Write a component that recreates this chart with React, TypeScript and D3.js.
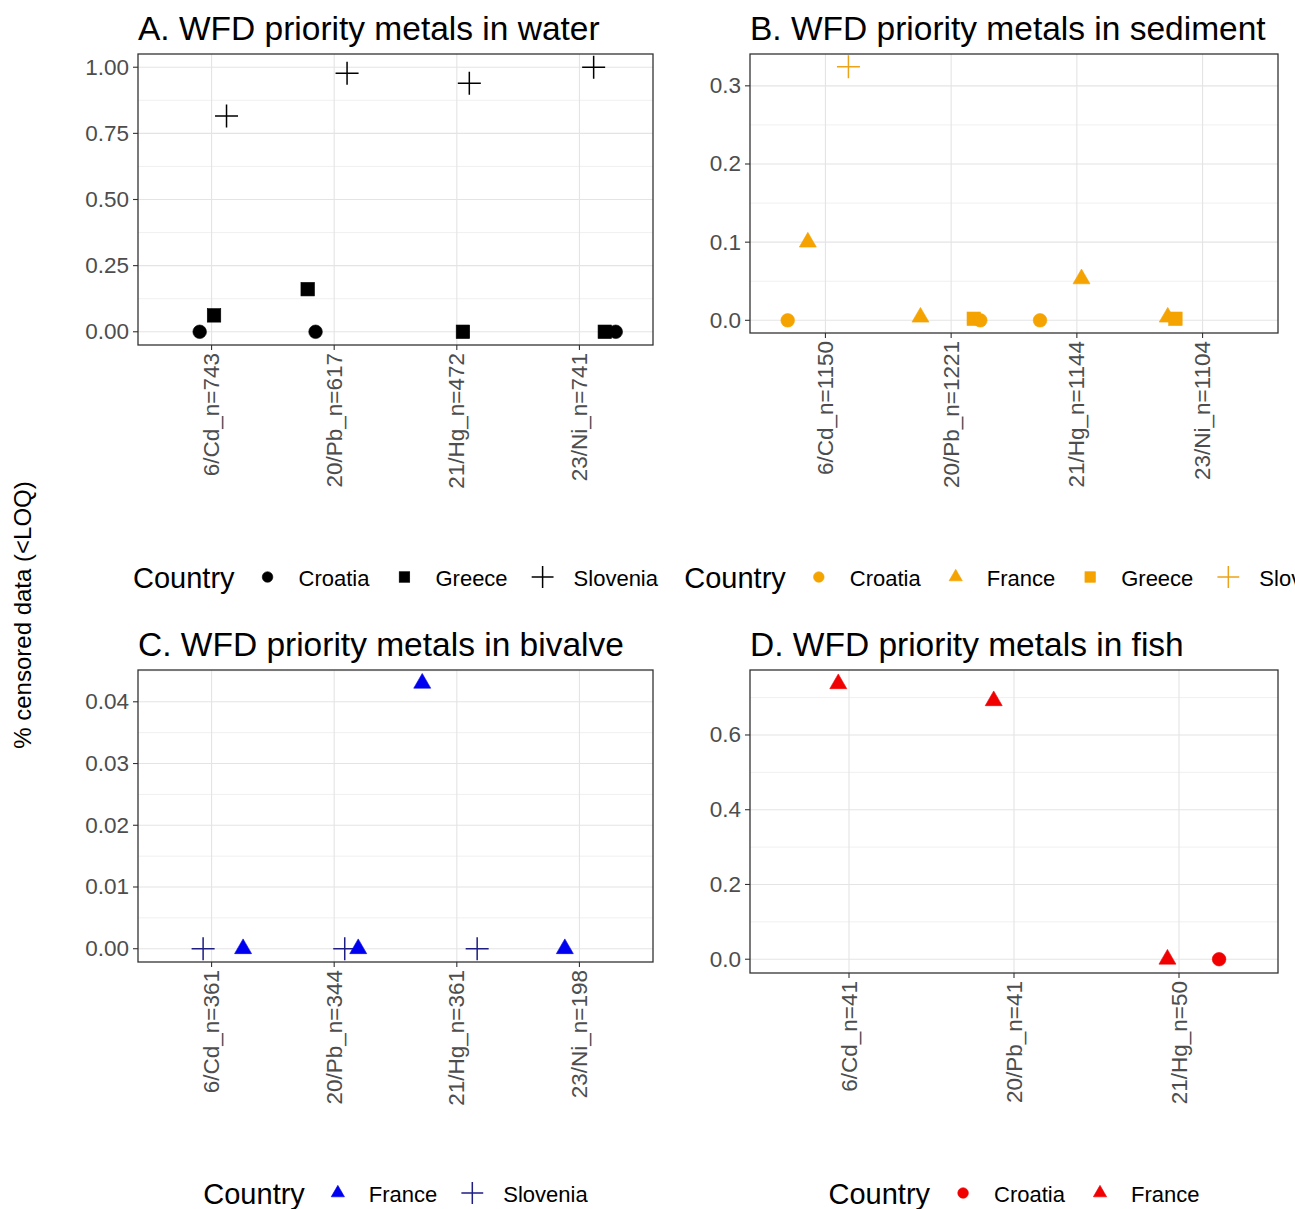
import React from "react";
import * as d3 from "d3";

const FONT = "'Liberation Sans', Arial, Helvetica, sans-serif";

// ---------- data ----------
const waterCategories = ["6/Cd_n=743", "20/Pb_n=617", "21/Hg_n=472", "23/Ni_n=741"];
const sedimentCategories = ["6/Cd_n=1150", "20/Pb_n=1221", "21/Hg_n=1144", "23/Ni_n=1104"];
const bivalveCategories = ["6/Cd_n=361", "20/Pb_n=344", "21/Hg_n=361", "23/Ni_n=198"];
const fishCategories = ["6/Cd_n=41", "20/Pb_n=41", "21/Hg_n=50"];

const waterTicks = [0, 0.25, 0.5, 0.75, 1.0];
const sedimentTicks = [0, 0.1, 0.2, 0.3];
const bivalveTicks = [0, 0.01, 0.02, 0.03, 0.04];
const fishTicks = [0, 0.2, 0.4, 0.6];

// [country, category index, share censored, jitter (in category steps)]
type Pt = [string, number, number, number];

const waterPoints: Pt[] = [
  ["Greece", 0, 0.062, 0.02],
  ["Greece", 1, 0.161, -0.216],
  ["Greece", 2, 0.0, 0.05],
  ["Greece", 3, 0.0, 0.207],
  ["Croatia", 0, 0.0, -0.097],
  ["Croatia", 1, 0.0, -0.152],
  ["Croatia", 3, 0.0, 0.296],
  ["Slovenia", 0, 0.816, 0.122],
  ["Slovenia", 1, 0.977, 0.105],
  ["Slovenia", 2, 0.939, 0.102],
  ["Slovenia", 3, 1.0, 0.116],
];

const sedimentPoints: Pt[] = [
  ["France", 0, 0.1, -0.14],
  ["France", 1, 0.004, -0.244],
  ["France", 2, 0.053, 0.037],
  ["France", 3, 0.004, -0.277],
  ["Greece", 1, 0.002, 0.18],
  ["Greece", 3, 0.002, -0.216],
  ["Croatia", 0, 0.0, -0.3],
  ["Croatia", 1, 0.0, 0.232],
  ["Croatia", 2, 0.0, -0.293],
  ["Slovenia", 0, 0.3245, 0.183],
];

const bivalvePoints: Pt[] = [
  ["Slovenia", 0, 0.0, -0.069],
  ["Slovenia", 1, 0.0, 0.086],
  ["Slovenia", 2, 0.0, 0.166],
  ["France", 0, 0.0, 0.257],
  ["France", 1, 0.0, 0.196],
  ["France", 2, 0.043, -0.282],
  ["France", 3, 0.0, -0.119],
];

const fishPoints: Pt[] = [
  ["France", 0, 0.737, -0.065],
  ["France", 1, 0.6915, -0.123],
  ["France", 2, 0.0, -0.07],
  ["Croatia", 2, 0.0, 0.243],
];

const waterCountries = ["Croatia", "Greece", "Slovenia"];
const sedimentCountries = ["Croatia", "France", "Greece", "Slovenia"];
const bivalveCountries = ["France", "Slovenia"];
const fishCountries = ["Croatia", "France"];

const shapeByCountry: Record<string, string> = {
  Croatia: "circle",
  Greece: "square",
  Slovenia: "plus",
  France: "triangle",
};

// ---------- helpers ----------
let canvasCtx: CanvasRenderingContext2D | null = null;
function textWidth(s: string, size: number): number {
  if (!canvasCtx) {
    const c = document.createElement("canvas");
    canvasCtx = c.getContext("2d");
  }
  if (!canvasCtx) return s.length * size * 0.5;
  canvasCtx.font = `${size}px ${FONT}`;
  return canvasCtx.measureText(s).width;
}

function Marker({ shape, x, y, color, scale = 1 }: { shape: string; x: number; y: number; color: string; scale?: number }) {
  if (shape === "circle") {
    return <circle cx={x} cy={y} r={6.8 * scale} fill={color} stroke={color} strokeWidth={0.6} />;
  }
  if (shape === "square") {
    const s = 13.5 * scale;
    return <rect x={x - s / 2} y={y - s / 2} width={s} height={s} fill={color} stroke={color} strokeWidth={0.6} />;
  }
  if (shape === "triangle") {
    const w = 17 * scale;
    const h = (w * Math.sqrt(3)) / 2;
    const d = `M${x},${y - (2 * h) / 3}L${x + w / 2},${y + h / 3}L${x - w / 2},${y + h / 3}Z`;
    return <path d={d} fill={color} stroke={color} strokeWidth={0.6} strokeLinejoin="round" />;
  }
  const a = 11.5 * (scale < 1 ? 0.95 : 1);
  return (
    <path
      d={`M${x - a},${y}H${x + a}M${x},${y - a}V${y + a}`}
      stroke={color}
      strokeWidth={1.5}
      fill="none"
    />
  );
}

type PanelProps = {
  title: string;
  categories: string[];
  ticks: number[];
  decimals: number;
  points: Pt[];
  countries: string[];
  colors: Record<string, string>;
  box: { left: number; right: number; top: number; bottom: number };
  titleY: number;
  legendY: number;
};

const TITLE_SIZE = 33.5;
const TICK_SIZE = 22.5;
const LEGEND_TITLE_SIZE = 29;
const LEGEND_TEXT_SIZE = 22;

function Panel(p: PanelProps) {
  const { box } = p;
  const x = d3
    .scalePoint<string>()
    .domain(p.categories)
    .range([box.left, box.right])
    .padding(0.6);
  const step = x.step();
  const maxV = d3.max(p.points, (d) => d[2]) ?? 1;
  const span = maxV - 0;
  const y = d3
    .scaleLinear()
    .domain([0 - 0.05 * span, maxV + 0.05 * span])
    .range([box.bottom, box.top]);
  const [d0, d1] = y.domain();
  const tStep = p.ticks[1] - p.ticks[0];
  const minor: number[] = [];
  for (let i = -1; i < p.ticks.length; i++) {
    const m = p.ticks[0] + (i + 0.5) * tStep;
    if (m >= d0 && m <= d1) minor.push(m);
  }
  const fmt = d3.format(`.${p.decimals}f`);

  // legend layout
  const titleW = textWidth("Country", LEGEND_TITLE_SIZE);
  const labelWs = p.countries.map((c) => textWidth(c, LEGEND_TEXT_SIZE));
  const n = p.countries.length;
  const total = titleW + 33 + n * 31 + d3.sum(labelWs) + 35 * (n - 1);
  const cx = (box.left + box.right) / 2;
  let cursor = cx - total / 2;
  const legendStart = cursor;
  cursor += titleW + 33;
  const items = p.countries.map((c, i) => {
    const k = cursor;
    const lx = k + 31;
    cursor = lx + labelWs[i] + 35;
    return { c, k, lx };
  });

  return (
    <g>
      <text x={box.left} y={p.titleY} fontSize={TITLE_SIZE} fill="#000" fontFamily={FONT}>
        {p.title}
      </text>
      <rect x={box.left} y={box.top} width={box.right - box.left} height={box.bottom - box.top} fill="#fff" />
      {minor.map((m) => (
        <line key={"mn" + m} x1={box.left} x2={box.right} y1={y(m)} y2={y(m)} stroke="#F0F0F0" strokeWidth={1} />
      ))}
      {p.ticks.map((t) => (
        <line key={"mj" + t} x1={box.left} x2={box.right} y1={y(t)} y2={y(t)} stroke="#E4E4E4" strokeWidth={1.1} />
      ))}
      {p.categories.map((c) => (
        <line key={"vx" + c} x1={x(c)} x2={x(c)} y1={box.top} y2={box.bottom} stroke="#E4E4E4" strokeWidth={1.1} />
      ))}
      {p.points.map((d, i) => (
        <Marker
          key={"pt" + i}
          shape={shapeByCountry[d[0]]}
          x={(x(p.categories[d[1]]) as number) + d[3] * step}
          y={y(d[2])}
          color={p.colors[d[0]]}
        />
      ))}
      <rect
        x={box.left}
        y={box.top}
        width={box.right - box.left}
        height={box.bottom - box.top}
        fill="none"
        stroke="#333333"
        strokeWidth={1.3}
      />
      {p.ticks.map((t) => (
        <g key={"yt" + t}>
          <line x1={box.left - 5} x2={box.left} y1={y(t)} y2={y(t)} stroke="#333333" strokeWidth={1.1} />
          <text
            x={box.left - 9}
            y={y(t)}
            textAnchor="end"
            dominantBaseline="central"
            fontSize={TICK_SIZE}
            fill="#4D4D4D"
            fontFamily={FONT}
          >
            {fmt(t)}
          </text>
        </g>
      ))}
      {p.categories.map((c) => (
        <g key={"xt" + c}>
          <line x1={x(c)} x2={x(c)} y1={box.bottom} y2={box.bottom + 5} stroke="#333333" strokeWidth={1.1} />
          <text
            transform={`translate(${x(c)},${box.bottom + 8}) rotate(-90)`}
            textAnchor="end"
            dominantBaseline="central"
            fontSize={TICK_SIZE}
            fill="#4D4D4D"
            fontFamily={FONT}
          >
            {c}
          </text>
        </g>
      ))}
      <text x={legendStart} y={p.legendY} dominantBaseline="central" fontSize={LEGEND_TITLE_SIZE} fill="#000" fontFamily={FONT}>
        Country
      </text>
      {items.map((it) => (
        <g key={"lg" + it.c}>
          <Marker shape={shapeByCountry[it.c]} x={it.k} y={p.legendY - 1} color={p.colors[it.c]} scale={0.78} />
          <text x={it.lx} y={p.legendY} dominantBaseline="central" fontSize={LEGEND_TEXT_SIZE} fill="#000" fontFamily={FONT}>
            {it.c}
          </text>
        </g>
      ))}
    </g>
  );
}

export default function App() {
  const black = { Croatia: "#000000", Greece: "#000000", Slovenia: "#000000" };
  const orange = { Croatia: "#F5A300", France: "#F5A300", Greece: "#F5A300", Slovenia: "#EBA31A" };
  const blue = { France: "#0000F0", Slovenia: "#1E1E82" };
  const red = { Croatia: "#F00000", France: "#F00000" };
  return (
    <svg
      width={1295}
      height={1209}
      style={{ position: "absolute", left: 0, top: 0, background: "#fff" }}
      fontFamily={FONT}
    >
      <rect x={0} y={0} width={1295} height={1209} fill="#fff" />
      <Panel
        title="A. WFD priority metals in water"
        categories={waterCategories}
        ticks={waterTicks}
        decimals={2}
        points={waterPoints}
        countries={waterCountries}
        colors={black}
        box={{ left: 138, right: 653, top: 54, bottom: 345 }}
        titleY={40}
        legendY={578}
      />
      <Panel
        title="B. WFD priority metals in sediment"
        categories={sedimentCategories}
        ticks={sedimentTicks}
        decimals={1}
        points={sedimentPoints}
        countries={sedimentCountries}
        colors={orange}
        box={{ left: 750, right: 1278, top: 54, bottom: 333 }}
        titleY={40}
        legendY={578}
      />
      <Panel
        title="C. WFD priority metals in bivalve"
        categories={bivalveCategories}
        ticks={bivalveTicks}
        decimals={2}
        points={bivalvePoints}
        countries={bivalveCountries}
        colors={blue}
        box={{ left: 138, right: 653, top: 670, bottom: 962 }}
        titleY={656}
        legendY={1194}
      />
      <Panel
        title="D. WFD priority metals in fish"
        categories={fishCategories}
        ticks={fishTicks}
        decimals={1}
        points={fishPoints}
        countries={fishCountries}
        colors={red}
        box={{ left: 750, right: 1278, top: 670, bottom: 973 }}
        titleY={656}
        legendY={1194}
      />
      <text
        transform="translate(22,615) rotate(-90)"
        textAnchor="middle"
        dominantBaseline="central"
        fontSize={24}
        fill="#000"
        fontFamily={FONT}
      >
        % censored data (&lt;LOQ)
      </text>
    </svg>
  );
}
